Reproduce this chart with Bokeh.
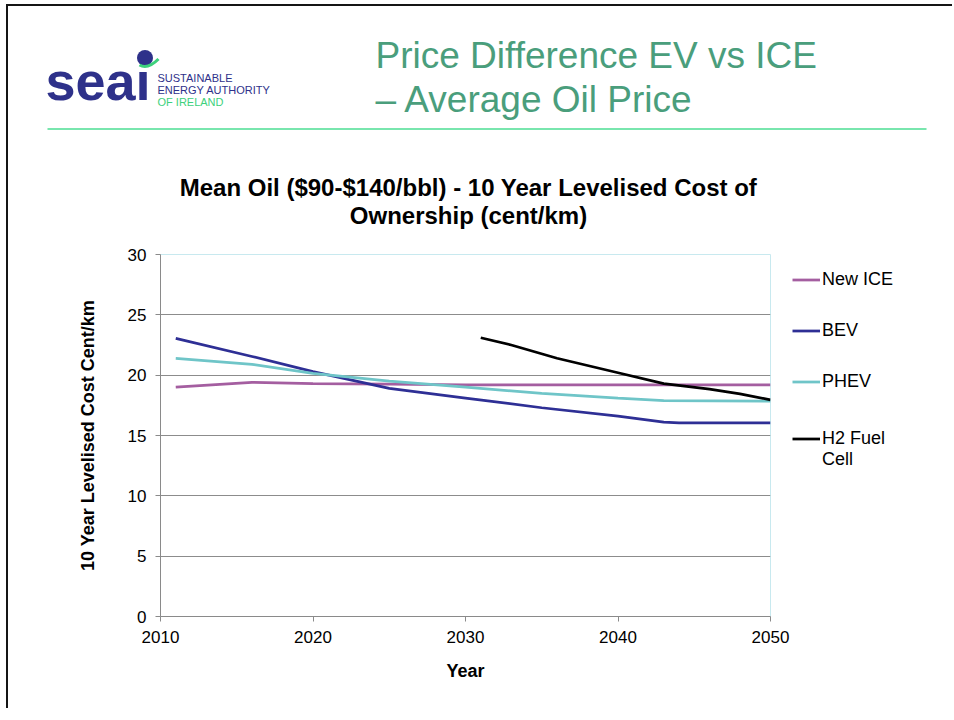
from bokeh.plotting import figure
from bokeh.models import Range1d, FixedTicker, Label, Legend, LegendItem
from bokeh.embed import file_html
from bokeh.resources import INLINE

FONT = "Liberation Sans"

# ---- data ----
x_ticks = [2010, 2020, 2030, 2040, 2050]
y_ticks = [0, 5, 10, 15, 20, 25, 30]

ice_years = [2011, 2016, 2020, 2025, 2030, 2040, 2050]
ice_vals = [19.0, 19.4, 19.3, 19.25, 19.2, 19.2, 19.2]

bev_years = [2011, 2016, 2020, 2025, 2030, 2035, 2040, 2043, 2044, 2050]
bev_vals = [23.05, 21.55, 20.3, 18.9, 18.1, 17.3, 16.6, 16.1, 16.05, 16.05]

phev_years = [2011, 2016, 2020, 2025, 2030, 2035, 2040, 2043, 2050]
phev_vals = [21.4, 20.9, 20.15, 19.5, 19.0, 18.5, 18.1, 17.9, 17.85]

h2_years = [2031, 2033, 2036, 2040, 2043, 2046, 2048, 2050]
h2_vals = [23.1, 22.5, 21.4, 20.2, 19.3, 18.85, 18.45, 17.95]

# the wrapped last entry keeps its key on its first line (" " pads above)
series_names = ["New ICE", "BEV", "PHEV", " \nH2 Fuel\nCell"]
chart_title = ["Mean Oil ($90-$140/bbl) - 10 Year Levelised Cost of",
               "Ownership (cent/km)"]
slide_title = ["Price Difference EV vs ICE", "\u2013 Average Oil Price"]

NAVY = "#2e318a"
GREEN = "#4a9e7c"
BORDER = "2px solid #151515"

# ---------------- header (slide heading + chart title) ----------------
W = 946
HH = 234
hdr = figure(output_backend="svg", toolbar_location=None, width=W, height=HH,
             x_range=Range1d(8, 8 + W), y_range=Range1d(6 + HH - 2, 6),
             x_axis_location=None, y_axis_location=None,
             min_border=0, background_fill_color="white",
             border_fill_color="white", outline_line_color=None)
hdr.xgrid.grid_line_color = None
hdr.ygrid.grid_line_color = None
hdr.styles = {"border-top": BORDER, "border-left": BORDER,
              "margin-left": "6px", "margin-top": "4px"}


def lab(x, y, text, size, color="#000000", style="normal", align="left"):
    # y is the wanted baseline; compensate the renderer's baseline offset
    hdr.add_layout(Label(x=x, y=y - 0.38 * size, text=text, text_font=FONT,
                         text_font_size=f"{size}px", text_color=color,
                         text_font_style=style, text_align=align,
                         text_baseline="alphabetic"))


# logo
lab(45, 100, "sea\u0131", 54, color=NAVY, style="bold")
hdr.scatter([144.5], [57], size=16, marker="circle", fill_color=NAVY,
            line_color=None)
hdr.bezier(x0=[139], y0=[64], x1=[158], y1=[58], cx0=[146], cy0=[68],
           cx1=[153], cy1=[63], line_color="#3dd17c", line_width=3)
lab(157, 81.0, "SUSTAINABLE", 11, color=NAVY)
lab(157, 93.3, "ENERGY AUTHORITY", 11, color=NAVY)
lab(157, 104.6, "OF IRELAND", 11, color="#3dd17c")

# slide title
lab(375, 68.3, slide_title[0], 37, color=GREEN)
lab(375, 112.5, slide_title[1], 37, color=GREEN)

# rule under the heading
hdr.segment(x0=[47], y0=[127.5], x1=[926], y1=[127.5],
            line_color="#79e6ae", line_width=2)

# chart title
lab(468, 194.5, chart_title[0], 24, style="bold", align="center")
lab(468, 222.5, chart_title[1], 24, style="bold", align="center")

# ---------------- chart ----------------
p = figure(output_backend="svg", toolbar_location=None,
           frame_width=610, frame_height=362,
           min_border_left=152, min_border_right=W - 152 - 610,
           min_border_top=16, min_border_bottom=92,
           x_range=Range1d(2010, 2050), y_range=Range1d(0, 30),
           background_fill_color="white", border_fill_color="white")
p.styles = {"border-left": BORDER, "margin-left": "6px"}

p.xaxis.ticker = FixedTicker(ticks=x_ticks)
p.yaxis.ticker = FixedTicker(ticks=y_ticks)
for ax in (p.xaxis[0], p.yaxis[0]):
    ax.axis_line_color = "#8a8a8a"
    ax.major_tick_line_color = "#8a8a8a"
    ax.major_tick_in = 0
    ax.major_tick_out = 5
    ax.minor_tick_line_color = None
    ax.major_label_text_font = FONT
    ax.major_label_text_font_size = "17px"
    ax.major_label_text_color = "#000000"
    ax.axis_label_text_font = FONT
    ax.axis_label_text_font_size = "18px"
    ax.axis_label_text_font_style = "bold"
    ax.axis_label_text_color = "#000000"
p.xaxis.major_label_standoff = 9
p.yaxis.major_label_standoff = 9
p.xaxis.axis_label = "Year"
p.xaxis.axis_label_standoff = 15
p.yaxis.axis_label = "10 Year Levelised Cost Cent/km"
p.yaxis.axis_label_standoff = 27

p.xgrid.grid_line_color = None
p.ygrid.grid_line_color = "#8c8c8c"
p.ygrid.grid_line_width = 1
p.outline_line_color = "#c8e9ef"

lw = 2.75
r_ice = p.line(ice_years, ice_vals, line_color="#a45ea0", line_width=lw)
r_bev = p.line(bev_years, bev_vals, line_color="#2e2f95", line_width=lw)
r_phev = p.line(phev_years, phev_vals, line_color="#6fc5c8", line_width=lw)
r_h2 = p.line(h2_years, h2_vals, line_color="#000000", line_width=lw)

ITEM_H = 51
legend = Legend(items=[LegendItem(label=n, renderers=[r]) for n, r in
                       zip(series_names, [r_ice, r_bev, r_phev, r_h2])],
                location=(22, 146), padding=0, margin=0, spacing=0,
                glyph_width=28, glyph_height=ITEM_H, label_height=ITEM_H,
                label_standoff=2, label_text_font=FONT,
                label_text_font_size="18px", label_text_color="#000000",
                border_line_color=None, background_fill_alpha=0)
p.add_layout(legend, "right")

open("out.html", "w").write(file_html([hdr, p], INLINE))
